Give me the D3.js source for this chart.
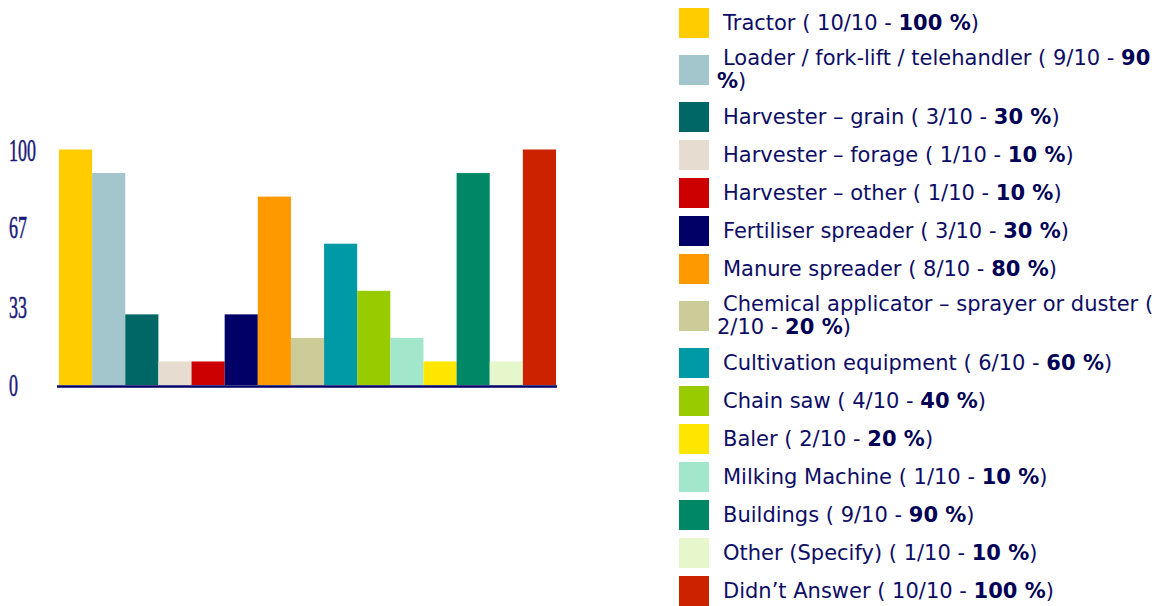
<!DOCTYPE html>
<html>
<head>
<meta charset="utf-8">
<script src="https://cdn.jsdelivr.net/npm/d3@7"></script>
<style>
  body { margin: 0; background: #fff; width: 1157px; height: 606px; overflow: hidden; position: relative; }
  #legend { position: absolute; left: 679px; top: 4px; width: 478px; font-family: "DejaVu Sans", Verdana, sans-serif; font-size: 21px; color: #0d0d66; }
  .row { display: flex; align-items: center; min-height: 38px; box-sizing: border-box; padding: 5px 0; }
  .sw { flex: 0 0 30px; height: 30px; margin: -1px 8px -1px 0; }
  .txt { line-height: 23px; text-indent: 6px; }
  .txt b { color: #000055; }
</style>
</head>
<body>
<svg id="chart" width="670" height="606" style="position:absolute;left:0;top:0"></svg>
<div id="legend"></div>
<script>
// bars as they appear in the chart, left to right
var barValues = [100, 90, 30, 10, 10, 30, 80, 20, 60, 40, 20, 10, 90, 10, 100];
var barColors = ["#ffcc00", "#a2c6cc", "#006666", "#e6dccf", "#cc0000", "#000066", "#ff9900",
                 "#cccc99", "#0099a6", "#99cc00", "#a2e6cc", "#ffe600", "#008866", "#e6f7cc", "#cc2200"];
var yTicks = [0, 33, 67, 100];

// legend entries
var legendNames = ["Tractor", "Loader / fork-lift / telehandler", "Harvester \u2013 grain", "Harvester \u2013 forage",
  "Harvester \u2013 other", "Fertiliser spreader", "Manure spreader", "Chemical applicator \u2013 sprayer or duster",
  "Cultivation equipment", "Chain saw", "Baler", "Milking Machine", "Buildings", "Other (Specify)", "Didn\u2019t Answer"];
var legendCounts = [10, 9, 3, 1, 1, 3, 8, 2, 6, 4, 2, 1, 9, 1, 10];
var legendPercents = [100, 90, 30, 10, 10, 30, 80, 20, 60, 40, 20, 10, 90, 10, 100];
var legendColors = ["#ffcc00", "#a2c6cc", "#006666", "#e6dccf", "#cc0000", "#000066", "#ff9900",
                    "#cccc99", "#0099a6", "#99cc00", "#ffe600", "#a2e6cc", "#008866", "#e6f7cc", "#cc2200"];
var total = 10;

var svg = d3.select("#chart");

var x = d3.scaleBand()
    .domain(d3.range(barValues.length))
    .range([59, 556])
    .padding(0);

var y = d3.scaleLinear()
    .domain([0, 100])
    .range([385, 149.5]);

// bars
svg.append("g")
  .selectAll("rect")
  .data(barValues)
  .enter()
  .append("rect")
    .attr("x", (d, i) => x(i))
    .attr("y", d => y(d))
    .attr("width", x.bandwidth())
    .attr("height", d => y(0) - y(d))
    .attr("fill", (d, i) => barColors[i]);

// baseline
svg.append("line")
    .attr("x1", 57).attr("x2", 557)
    .attr("y1", y(0) + 1.5).attr("y2", y(0) + 1.5)
    .attr("stroke", "#000066")
    .attr("stroke-width", 2.5);

// y labels (narrow tall serif digits)
svg.append("g")
  .selectAll("text")
  .data(yTicks)
  .enter()
  .append("text")
    .attr("transform", d => "translate(9," + (y(d) + 11) + ") scale(0.56,1)")
    .attr("font-family", "Liberation Serif, serif")
    .attr("font-size", 32)
    .attr("fill", "#1a1a7a")
    .attr("stroke", "#1a1a7a")
    .attr("stroke-width", 0.6)
    .text(d => d);

// legend
var rows = d3.select("#legend")
  .selectAll("div")
  .data(legendNames)
  .enter()
  .append("div")
    .attr("class", "row");

rows.append("div")
    .attr("class", "sw")
    .style("background", (d, i) => legendColors[i]);

rows.append("div")
    .attr("class", "txt")
    .html((d, i) => d + " ( " + legendCounts[i] + "/" + total + " - <b>" + legendPercents[i] + " %</b>)");
</script>
</body>
</html>
